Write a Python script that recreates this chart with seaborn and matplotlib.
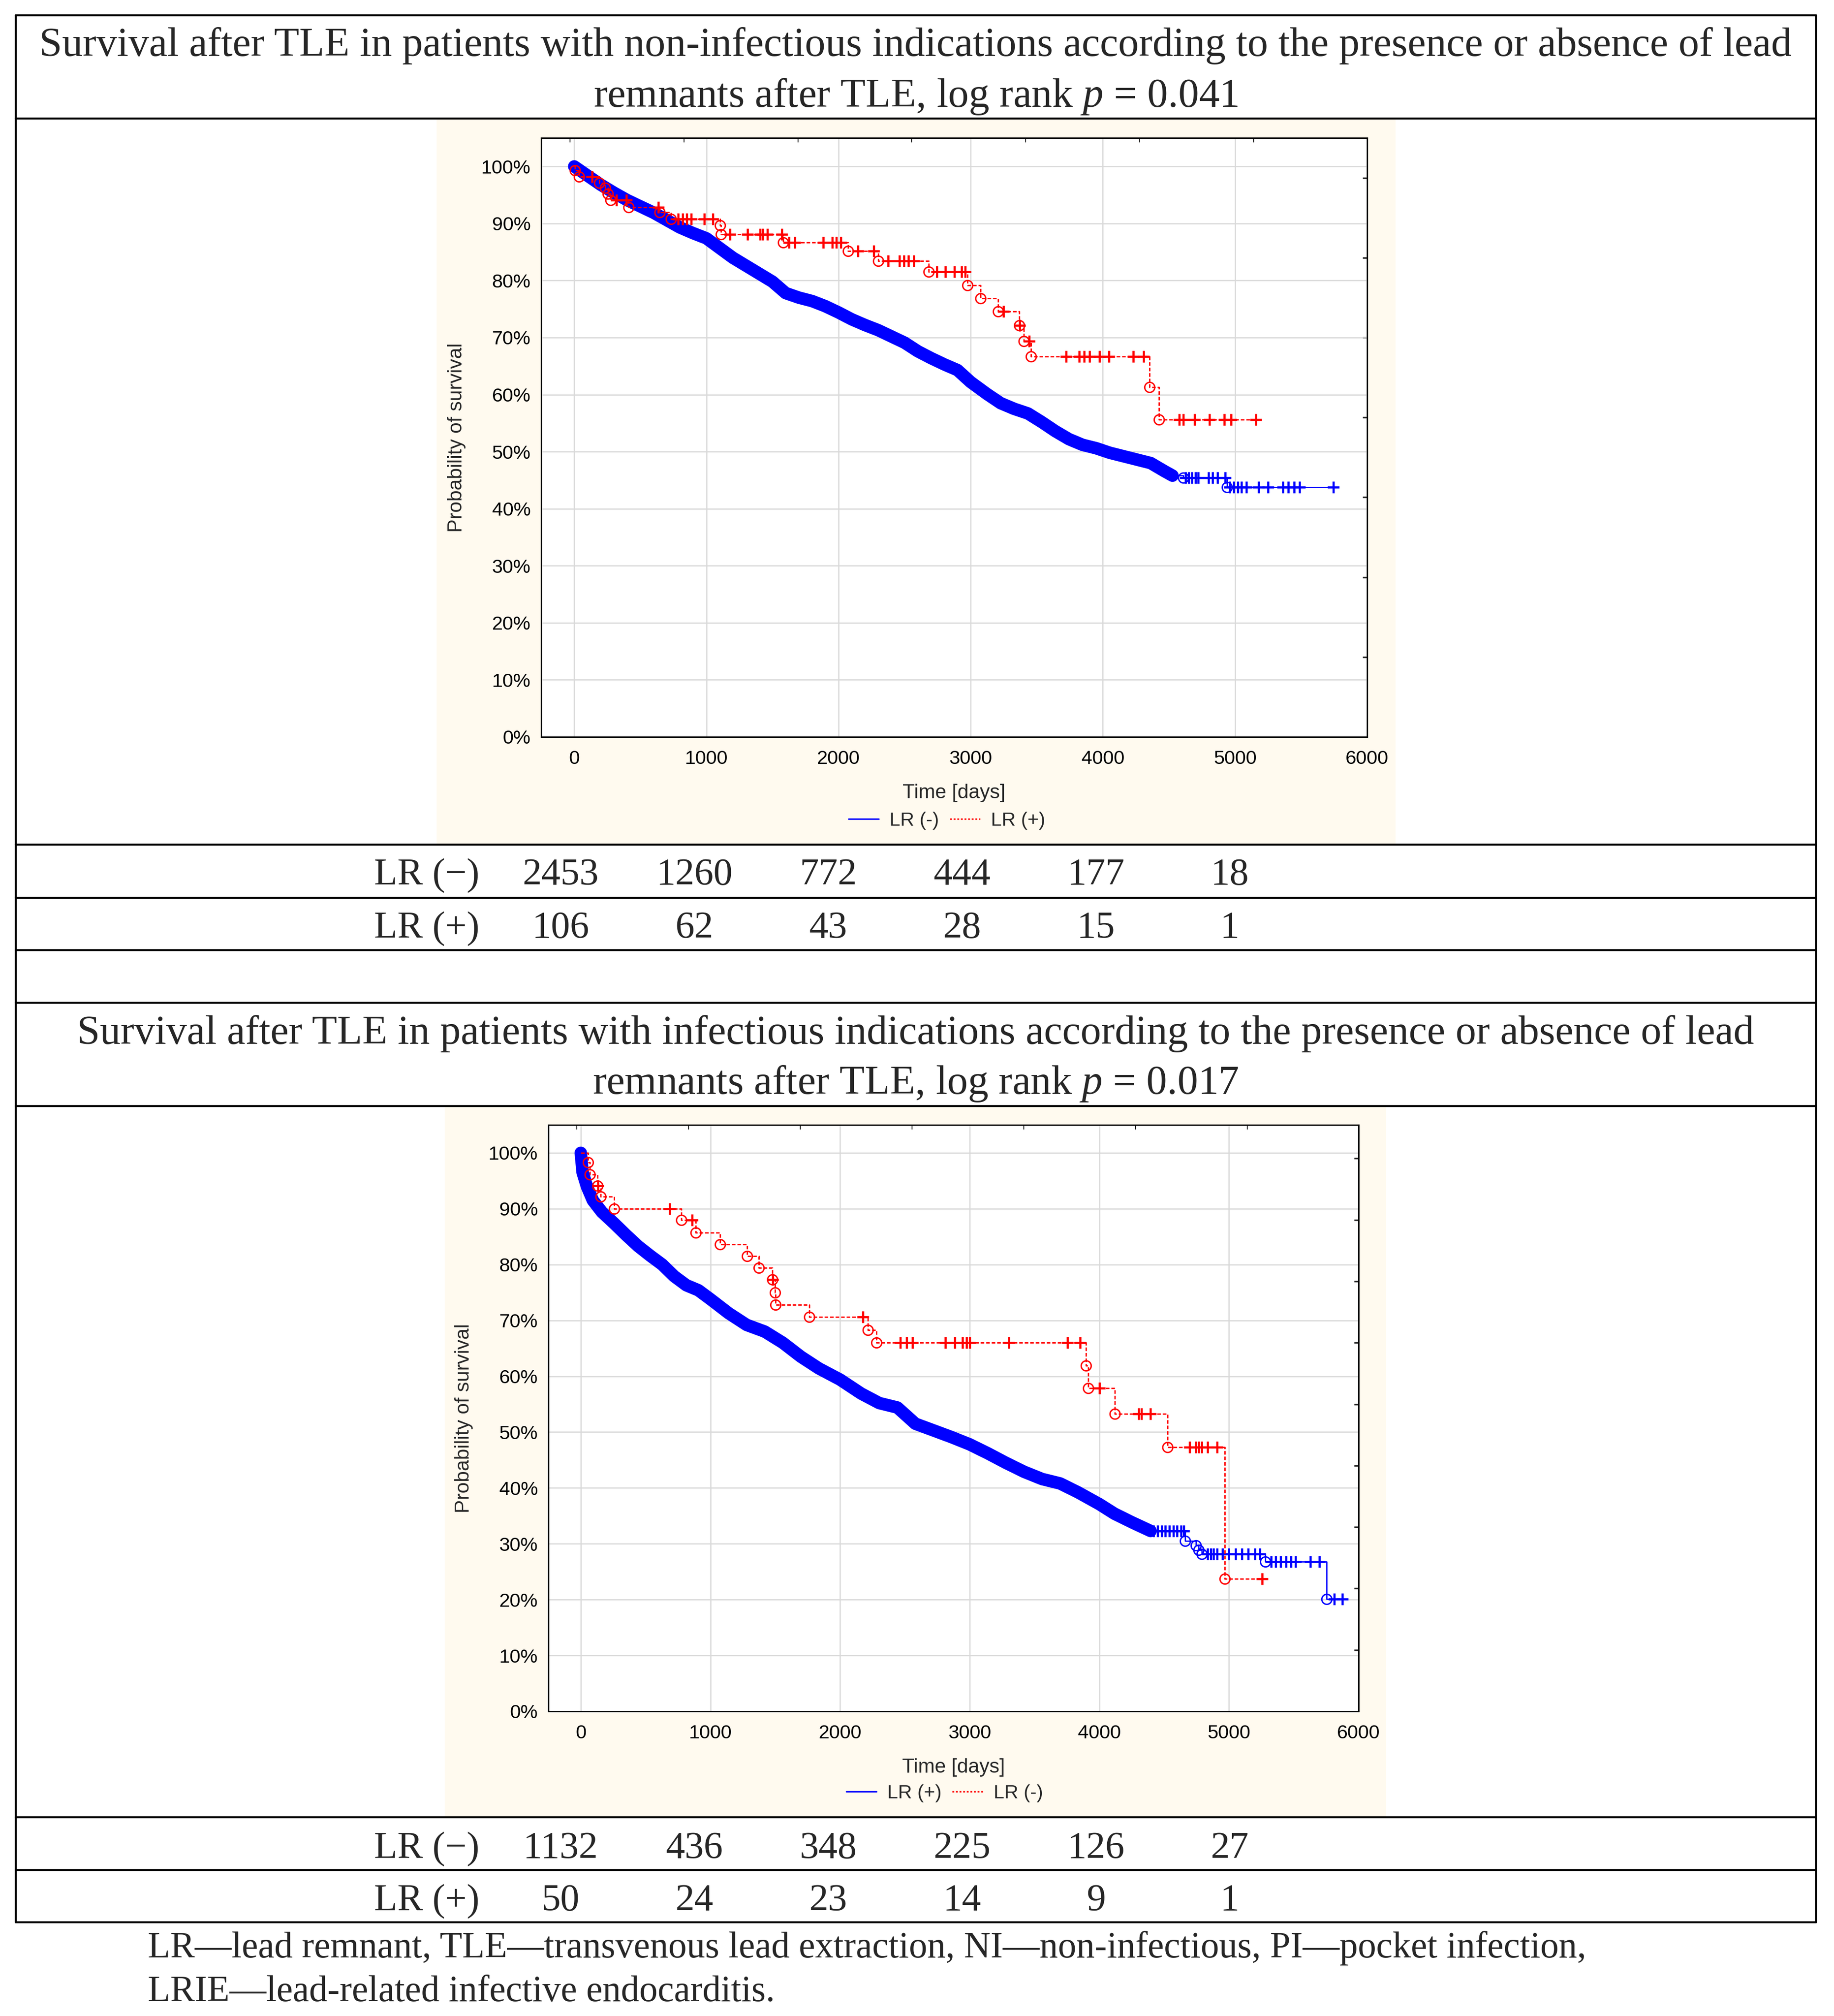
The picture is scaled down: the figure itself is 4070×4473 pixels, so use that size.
import numpy as np
import pandas as pd
import matplotlib
matplotlib.use("Agg")
import matplotlib.pyplot as plt
import seaborn as sns
from matplotlib.lines import Line2D
from matplotlib.patches import Rectangle
from matplotlib.ticker import PercentFormatter, NullFormatter

# ---------------- data: non-infectious panel ----------------
top_title = ["Survival after TLE in patients with non-infectious indications according to the presence or absence of lead",
             "remnants after TLE, log rank $p$ = 0.041"]
top_blue_label, top_red_label = "LR (-)", "LR (+)"

top_blue_t = [0, 100, 200, 300, 400, 500, 600, 700, 800, 900, 1000, 1100, 1200, 1300, 1400, 1500,
              1600, 1700, 1800, 1900, 2000, 2100, 2200, 2300, 2400, 2500, 2600, 2700, 2800, 2900,
              3000, 3124, 3227, 3330, 3433, 3537, 3640, 3743, 3846, 3950, 4053, 4156, 4259, 4362,
              4465, 4527, 4610, 4940]
top_blue_s = [1.000, 0.984, 0.968, 0.954, 0.941, 0.930, 0.919, 0.906, 0.893, 0.883, 0.874, 0.857,
              0.840, 0.826, 0.812, 0.798, 0.778, 0.770, 0.764, 0.755, 0.744, 0.732, 0.722, 0.713,
              0.702, 0.691, 0.676, 0.664, 0.653, 0.643, 0.622, 0.601, 0.585, 0.575, 0.567, 0.552,
              0.536, 0.522, 0.512, 0.506, 0.498, 0.492, 0.486, 0.480, 0.466, 0.458, 0.454, 0.4375]
top_blue_cens = [4625, 4650, 4675, 4700, 4723, 4800, 4830, 4868, 4925, 4960, 4990, 5020, 5050, 5085,
                 5177, 5250, 5363, 5405, 5446, 5487, 5745]

top_red_t = [5, 37, 189, 233, 254, 276, 413, 646, 733, 1103, 1109, 1581, 2071, 2299, 2684, 2974,
             3076, 3206, 3367, 3402, 3458, 4352, 4424]
top_red_s = [0.993, 0.982, 0.971, 0.962, 0.952, 0.941, 0.928, 0.920, 0.908, 0.897, 0.881, 0.867,
             0.852, 0.834, 0.815, 0.792, 0.769, 0.746, 0.721, 0.694, 0.667, 0.613, 0.556]
top_red_cens = [135, 320, 396, 635, 787, 820, 850, 885, 983, 1048, 1179, 1310, 1407, 1429, 1462,
                1571, 1625, 1668, 1886, 1951, 1984, 2016, 2147, 2267, 2375, 2462, 2495, 2528, 2571,
                2745, 2810, 2876, 2930, 2959, 3248, 3370, 3444, 3722, 3820, 3860, 3900, 3975, 4045,
                4230, 4310, 4579, 4610, 4693, 4806, 4919, 4971, 5157]

top_risk_neg = [2453, 1260, 772, 444, 177, 18]
top_risk_pos = [106, 62, 43, 28, 15, 1]

# ---------------- data: infectious panel ----------------
bot_title = ["Survival after TLE in patients with infectious indications according to the presence or absence of lead",
             "remnants after TLE, log rank $p$ = 0.017"]
bot_blue_label, bot_red_label = "LR (+)", "LR (-)"

bot_blue_t = [0, 14, 47, 93, 163, 256, 349, 442, 535, 628, 721, 814, 907, 1000, 1140, 1279, 1419,
              1558, 1698, 1837, 2000, 2163, 2302, 2442, 2581, 2721, 2860, 3000, 3140, 3279, 3419,
              3558, 3698, 3837, 4000, 4116, 4256, 4395, 4660, 4744, 4767, 4791, 5279, 5753]
bot_blue_s = [1.000, 0.965, 0.940, 0.915, 0.894, 0.874, 0.853, 0.833, 0.816, 0.800, 0.779, 0.763,
              0.754, 0.738, 0.713, 0.692, 0.680, 0.660, 0.635, 0.614, 0.594, 0.569, 0.552, 0.544,
              0.515, 0.503, 0.491, 0.478, 0.462, 0.445, 0.429, 0.416, 0.408, 0.392, 0.371, 0.354,
              0.338, 0.323, 0.305, 0.297, 0.289, 0.282, 0.268, 0.201]
bot_blue_cens = [4420, 4450, 4480, 4510, 4540, 4570, 4600, 4630, 4650, 4837, 4860, 4880, 4910, 4950,
                 5000, 5050, 5100, 5150, 5200, 5240, 5326, 5360, 5400, 5440, 5480, 5512, 5628, 5698,
                 5814, 5874]

bot_red_t = [56, 70, 130, 153, 256, 777, 888, 1074, 1284, 1372, 1479, 1498, 1502, 1763, 2214, 2279,
             3898, 3916, 4121, 4526, 4967]
bot_red_s = [0.983, 0.961, 0.941, 0.922, 0.900, 0.880, 0.857, 0.836, 0.815, 0.794, 0.773, 0.750,
             0.728, 0.7065, 0.683, 0.660, 0.619, 0.579, 0.533, 0.473, 0.237]
bot_red_cens = [132, 684, 860, 1482, 2177, 2465, 2512, 2558, 2814, 2884, 2944, 2977, 3000, 3302,
                3753, 3851, 4000, 4302, 4326, 4395, 4698, 4744, 4767, 4791, 4837, 4907, 5256]

bot_risk_neg = [1132, 436, 348, 225, 126, 27]
bot_risk_pos = [50, 24, 23, 14, 9, 1]

risk_labels = ["LR (\u2212)", "LR (+)"]
footnote = ["LR\u2014lead remnant, TLE\u2014transvenous lead extraction, NI\u2014non-infectious, PI\u2014pocket infection,",
            "LRIE\u2014lead-related infective endocarditis."]

# ---------------- style ----------------
W, H, DPI = 4070, 4473, 100
BLUE, RED, CREAM, GRID = "#0000ff", "#ff0000", "#fffaef", "#d9d9d9"
SERIF = "Liberation Serif"
SANS = "Liberation Sans"
RED_DASH = (0, (2.6, 1.4))

sns.set_style("white")
plt.rcParams["font.family"] = [SANS, "DejaVu Sans"]
plt.rcParams["mathtext.fontset"] = "custom"
plt.rcParams["mathtext.rm"] = SERIF
plt.rcParams["mathtext.it"] = SERIF + ":italic"
plt.rcParams["axes.unicode_minus"] = False

fig = plt.figure(figsize=(W / DPI, H / DPI), dpi=DPI)
fig.patch.set_facecolor("white")


def fx(x):
    return x / W


def fy(y):
    return 1 - y / H


def hline(y, x0=35, x1=4030):
    fig.add_artist(Line2D([fx(x0), fx(x1)], [fy(y), fy(y)], transform=fig.transFigure,
                          color="black", lw=3.2, zorder=5))


def step_at(t_ev, s_ev, tq):
    idx = np.searchsorted(np.asarray(t_ev), np.asarray(tq), side="right") - 1
    s = np.asarray(s_ev)
    return np.where(idx >= 0, s[np.clip(idx, 0, None)], 1.0)


def draw_panel(box, cream, b_t, b_s, b_band_end, b_cens, r_t, r_s, r_cens,
               top_ticks, right_step, labels, legend_xy, xlab_y, ylab_x):
    l, t, r, b = box
    cl, ct, cr, cb = cream
    fig.add_artist(Rectangle((fx(cl), fy(cb)), (cr - cl) / W, (cb - ct) / H, transform=fig.transFigure,
                             facecolor=CREAM, edgecolor="none", zorder=-1))
    ax = fig.add_axes([fx(l), fy(b), (r - l) / W, (b - t) / H])
    ax.set_facecolor("white")

    # blue: dense run of events drawn as a band, then thin steps for the sparse tail
    curve = pd.DataFrame({"t": b_t, "s": b_s})
    band = curve[curve["t"] <= b_band_end]
    tail = curve[curve["t"] >= b_band_end]
    sns.lineplot(data=band, x="t", y="s", color=BLUE, lw=20, estimator=None, sort=False, ax=ax,
                 solid_capstyle="round", solid_joinstyle="round", zorder=3)
    sns.lineplot(x=list(tail["t"]) + [max(b_cens)], y=list(tail["s"]) + [b_s[-1]],
                 drawstyle="steps-post", color=BLUE, lw=2, estimator=None, sort=False, ax=ax, zorder=3)
    ax.plot(b_t, b_s, "o", ms=16, mfc="none", mec=BLUE, mew=2.2, zorder=4)
    ax.plot(b_cens, step_at(b_t, b_s, b_cens), "+", ms=19, mew=3.4, color=BLUE, zorder=4)

    # red: dotted steps
    sns.lineplot(x=[0] + list(r_t) + [max(r_cens)], y=[1.0] + list(r_s) + [r_s[-1]],
                 drawstyle="steps-post", color=RED, lw=2.2, linestyle=RED_DASH,
                 estimator=None, sort=False, ax=ax, zorder=5)
    ax.plot(r_t, r_s, "o", ms=16, mfc="none", mec=RED, mew=2.2, zorder=6)
    ax.plot(r_cens, step_at(r_t, r_s, r_cens), "+", ms=19, mew=3.4, color=RED, zorder=6)

    ax.set_xlim(-250, 6000)
    ax.set_ylim(0, 1.05)
    ax.set_xticks(range(0, 6001, 1000))
    ax.set_yticks(np.arange(0, 1.001, 0.1))
    ax.yaxis.set_major_formatter(PercentFormatter(1.0, decimals=0))
    ax.grid(True, color=GRID, lw=1.9)
    ax.set_axisbelow(True)
    ax.tick_params(axis="x", direction="in", length=7, width=1.5, pad=21, labelsize=31, colors="black")
    ax.tick_params(axis="y", direction="in", length=4, width=3, pad=17, labelsize=31, colors="black")
    for sp in ax.spines.values():
        sp.set_visible(True)
        sp.set_color("black")
        sp.set_linewidth(2.2)

    secx = ax.secondary_xaxis("top")
    secx.set_xticks(top_ticks)
    secx.xaxis.set_major_formatter(NullFormatter())
    secx.tick_params(direction="in", length=7, width=1.5)
    secx.spines["top"].set_linewidth(2.2)
    secy = ax.secondary_yaxis("right")
    secy.set_yticks(np.arange(1, 10) * right_step)
    secy.yaxis.set_major_formatter(NullFormatter())
    secy.tick_params(direction="in", length=7, width=2.5)
    secy.spines["right"].set_linewidth(2.2)

    ax.set_xlabel("Time [days]", fontsize=32)
    ax.xaxis.set_label_coords(0.5, (b - xlab_y) / (b - t))
    ax.xaxis.label.set_va("center")
    ax.set_ylabel("Probability of survival", fontsize=32)
    ax.yaxis.set_label_coords((ylab_x - l) / (r - l), 0.5)
    ax.yaxis.label.set_va("center")

    handles = [Line2D([], [], color=BLUE, lw=2.4),
               Line2D([], [], color=RED, lw=2.4, linestyle=(0, (1.2, 1.2)))]
    fig.legend(handles, labels, loc="center", bbox_to_anchor=(fx(legend_xy[0]), fy(legend_xy[1])),
               bbox_transform=fig.transFigure, ncol=2, frameon=False, fontsize=31,
               handlelength=1.56, handletextpad=0.56, columnspacing=0.56, borderpad=0, borderaxespad=0)
    return ax


top_sec_ticks = [-32, 830, 1692, 2554, 3416, 4278, 5140]
draw_panel((1201, 306, 3034, 1635), (969, 265, 3097, 1872),
           top_blue_t, top_blue_s, 4527, top_blue_cens, top_red_t, top_red_s, top_red_cens,
           top_sec_ticks, 0.14, [top_blue_label, top_red_label], (2101, 1821), 1760, 1013)
draw_panel((1217, 2496, 3015, 3797), (987, 2456, 3076, 4030),
           bot_blue_t, bot_blue_s, 4395, bot_blue_cens, bot_red_t, bot_red_s, bot_red_cens,
           top_sec_ticks, 0.11, [bot_blue_label, bot_red_label], (2096, 3979), 3922, 1029)

# ---------------- table frame ----------------
for y in [34, 263, 1874, 1992, 2108, 2225, 2454, 4032, 4149, 4265]:
    hline(y)
for x in [35, 4030]:
    fig.add_artist(Line2D([fx(x), fx(x)], [fy(34), fy(4265)], transform=fig.transFigure,
                          color="black", lw=3.2, zorder=5))

# titles
title_texts = []
for lines, ys in [(top_title, (124, 237)), (bot_title, (2316, 2427))]:
    for line, y in zip(lines, ys):
        title_texts.append(fig.text(fx(2032), fy(y), line, ha="center", va="baseline",
                                    fontfamily=SERIF, fontsize=60))
renderer = fig.canvas.get_renderer()
w0 = title_texts[0].get_window_extent(renderer).width
title_size = 60 * 3890 / w0
for t in title_texts:
    t.set_fontsize(title_size)

# numbers at risk
col_x = [1244, 1541, 1838, 2135, 2432, 2729]
for rows, ys in [((top_risk_neg, top_risk_pos), (1963, 2081)), ((bot_risk_neg, bot_risk_pos), (4123, 4239))]:
    for lab, vals, y in zip(risk_labels, rows, ys):
        fig.text(fx(830), fy(y), lab, ha="left", va="baseline", fontfamily=SERIF, fontsize=61)
        for x, v in zip(col_x, vals):
            fig.text(fx(x), fy(y), str(v), ha="center", va="baseline", fontfamily=SERIF, fontsize=61)

# footnote
foot_texts = [fig.text(fx(328), fy(y), line, ha="left", va="baseline", fontfamily=SERIF, fontsize=56)
              for line, y in zip(footnote, (4343, 4440))]
w1 = foot_texts[0].get_window_extent(renderer).width
for t in foot_texts:
    t.set_fontsize(56 * 3193 / w1)

fig.savefig("out.png", dpi=DPI, facecolor="white")
